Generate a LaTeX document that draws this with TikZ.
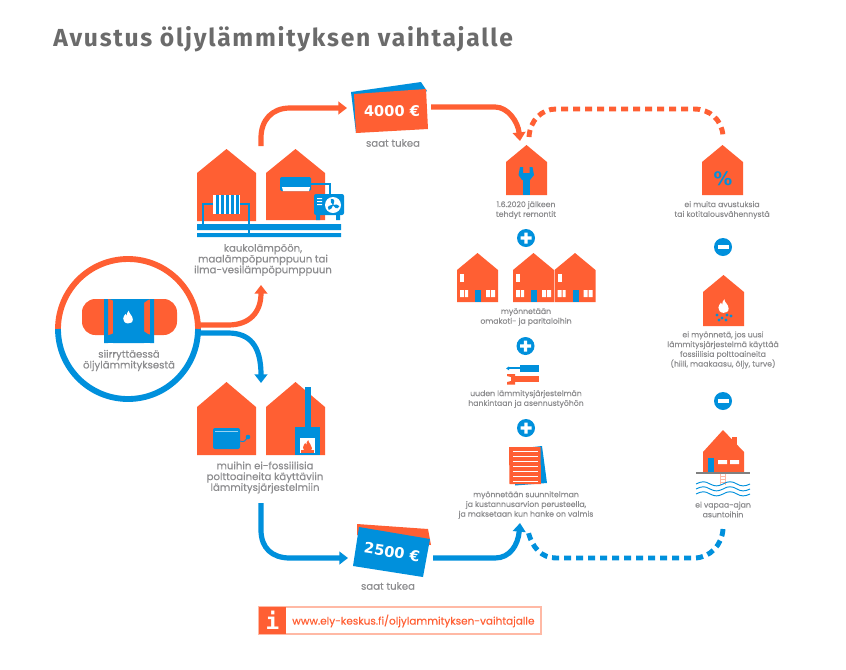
\documentclass[tikz,border=0pt]{standalone}
\usepackage{fontspec}
\setmainfont[FakeBold=0.25]{Poppins}
\newfontfamily\headfont[LetterSpace=7]{Fira Sans}
\newfontfamily\ticketfont{DejaVu Sans}
\newfontfamily\infofont{DejaVu Sans Mono}
\usetikzlibrary{arrows.meta}
\definecolor{org}{HTML}{FF5F33}
\definecolor{blu}{HTML}{0090DC}
\definecolor{gry}{HTML}{8C8C8E}
\definecolor{lite}{HTML}{FFB9A5}
\tikzset{
  x=0.75pt,y=-0.75pt,
  biglab/.style={text=gry,align=center,inner sep=0pt,font=\fontsize{7.6}{8.1}\selectfont},
  smalllab/.style={text=gry,align=center,inner sep=0pt,font=\fontsize{5.8}{7.3}\selectfont},
  flowline/.style={line width=3.9pt,-{Triangle[length=6.5pt,width=9.5pt]}},
  dashline/.style={line width=3.7pt,dash pattern=on 5.4pt off 3.6pt},
  signdot/.style={circle,fill=blu,minimum size=13.5pt,inner sep=0pt},
  ticket/.style={text=white,inner sep=0pt,font=\ticketfont\bfseries\fontsize{11}{13}\selectfont}
}
\newcommand{\myhouse}[5]{\fill[org] (#1,#4) -- ({(#1+#2)/2},#3) -- (#2,#4) -- (#2,#5) -- (#1,#5) -- cycle;}
\newcommand{\myflame}[4]{% x y scale colour
 \begin{scope}[shift={(#1,#2)},scale=#3]
 \fill[#4] (1,-8) .. controls (1,-4) and (6,-2) .. (6,3) .. controls (6,7) and (3,8) .. (0,8) .. controls (-4,8) and (-6,5) .. (-6,2) .. controls (-6,-1) and (-4,-2) .. (-3,-4) .. controls (-2.5,-2.5) and (-2,-2) .. (-1.5,-1.5) .. controls (-1.5,-4) and (-1,-6) .. (1,-8) -- cycle;
 \end{scope}}
\newcommand{\mysmallhouse}[1]{% left x of 41 wide row house
 \myhouse{#1}{#1+41}{253}{270}{302}
 \fill[white] (#1+3,274) rectangle (#1+7,282);
 \fill[white] (#1+3,290) rectangle (#1+7,297) (#1+8,290) rectangle (#1+11,297);
 \fill[white] (#1+29,290) rectangle (#1+33,297) (#1+34,290) rectangle (#1+38,297);
 \fill[blu] (#1+18,290) rectangle (#1+24,302);}
\begin{document}
\begin{tikzpicture}
\useasboundingbox (0,0) rectangle (846,669);
\fill[white] (0,0) rectangle (846,669);
% title
\node[anchor=base west,inner sep=0pt,text=black!58,font=\headfont\bfseries\fontsize{18.5}{21}\selectfont] (title) at (53,46) {Avustus öljylämmityksen vaihtajalle};

% start circle
\draw[org,line width=4.4pt] (58,329) arc[start angle=180,end angle=360,radius=70];
\draw[blu,line width=4.4pt] (58,329) arc[start angle=180,end angle=0,radius=70];
\fill[blu] (104,299) rectangle (154,343);
\fill[org,rounded corners=10pt] (82,299) rectangle (120,335);
\fill[org,rounded corners=10pt] (140,299) rectangle (177,335);
\fill[blu] (104,299) rectangle (108,343) (113,299) rectangle (144,343) (150,299) rectangle (154,343);
\fill[blu] (104,335) rectangle (154,343);
\myflame{128}{317}{0.8}{white}
\node[biglab] (source) at (129,360.5) {siirryttäessä\\öljylämmityksestä};

% top houses
\myhouse{197}{256}{149}{173}{221}
\myhouse{266}{325}{149}{173}{220}
\fill[blu] (197,224) rectangle (341,230) (197,233) rectangle (341,237);
\fill[white] (213,195) rectangle (240,214);
\foreach \s in {215.5,220.5,225.5,230.5,235.5} \fill[blu] (\s,195) rectangle (\s+3,214);
\draw[blu,line width=2pt] (203,224) -- (203,204) -- (213,204);
\draw[blu,line width=2pt] (240,204) -- (249,204) -- (249,235);
\fill[blu,rounded corners=1pt] (280,177) rectangle (311,191);
\fill[white] (282,187) -- (310,187) -- (309,191) -- (283,191) -- cycle;
\draw[blu,line width=1.8pt] (311,184) -- (330,184) -- (330,195);
\fill[blu,rounded corners=1.5pt] (314,194) rectangle (344,215);
\fill[blu] (316,214) rectangle (320,220) (336,214) rectangle (340,220);
\fill[white] (317,198) rectangle (322,199) (317,201) rectangle (322,202) (317,204) rectangle (322,205);
\fill[white] (333,205) circle (8);
\foreach \a in {20,140,260} \fill[blu,rotate around={\a:(333,205)}] (333,205) .. controls (335,203) and (338,200) .. (333,198.5) .. controls (331,200) and (332,203) .. (333,205) -- cycle;
\fill[blu] (333,205) circle (1);
\node[biglab] (targetA) at (263,260) {kaukolämpöön,\\maalämpöpumppuun tai\\ilma-vesilämpöpumppuun};

% lower houses
\myhouse{197}{256}{382}{407}{455}
\myhouse{266}{325}{382}{407}{455}
\fill[blu,rounded corners=1.5pt] (213,428) rectangle (240,449);
\draw[white!60!blu,line width=.5pt] (215,431) -- (238,431);
\draw[blu,line width=.7pt] (240,441) .. controls (245,443) and (245,440) .. (248,437);
\fill[blu] (248,437) circle (2.3);
\fill[blu] (305,387) rectangle (311,427);
\fill[blu] (295,427) rectangle (320,455);
\fill[white] (300,438) rectangle (315,453);
\myflame{307.5}{446}{0.75}{org}
\fill[org] (301,450) rectangle (314,453);
\node[biglab] (targetB) at (265,477.5) {muihin ei-fossiilisia\\polttoaineita käyttäviin\\lämmitysjärjestelmiin};

% tickets
\fill[blu] (351,92) -- (421,82) -- (427,91) -- (356,133) -- cycle;
\fill[org] (354,94) -- (426,89) -- (428,129) -- (356,133) -- cycle;
\node[ticket,rotate=1] (sumA) at (392,111) {4000 €};
\node[biglab] (tukeaA) at (393,143) {saat tukea};
\fill[org] (357,524) -- (428,529) -- (431,545) -- (357,535) -- cycle;
\fill[blu] (359,527) -- (430,539) -- (423,577) -- (353,566) -- cycle;
\node[ticket,rotate=-9] (sumB) at (392,552) {2500 €};
\node[biglab] (tukeaB) at (388,586) {saat tukea};

% connector end points
\coordinate (c1) at (199,325);
\coordinate (c2) at (261,285);
\coordinate (c3) at (199,333);
\coordinate (c4) at (261,383);
\coordinate (c5) at (261,146);
\coordinate (c6) at (347,108);
\coordinate (c7) at (431,107);
\coordinate (c8) at (520,141);
\coordinate (c9) at (529,137);
\coordinate (c10) at (723,136);
\coordinate (c11) at (261,503);
\coordinate (c12) at (348,558);
\coordinate (c13) at (433,558);
\coordinate (c14) at (520,523);
\coordinate (c15) at (723,529);
\coordinate (c16) at (528,531);

\draw[flowline,org] (c1) -- (228,325) .. controls (250,325) and (261,312) .. (c2);
\draw[flowline,blu] (c3) -- (228,333) .. controls (250,333) and (261,346) .. (c4);
\draw[flowline,org] (c5) -- (261,138) .. controls (261,120) and (272,108) .. (290,108) -- (c6);
\draw[flowline,blu] (c11) -- (261,530) .. controls (261,548) and (272,558) .. (290,558) -- (c12);
\draw[flowline,org] (c7) -- (495,107) .. controls (508,107) and (518,122) .. (c8);
\draw[flowline,blu] (c13) -- (495,558) .. controls (510,558) and (518,545) .. (c14);
\draw[dashline,org] (c9) .. controls (530,120) and (542,109) .. (556,109) -- (694,109) .. controls (710,109) and (722,120) .. (c10);
\draw[dashline,blu] (c15) .. controls (722,545) and (710,558) .. (694,558) -- (556,558) .. controls (542,558) and (532,548) .. (c16);

% middle column
\myhouse{506}{547}{145}{162}{195}
\fill[blu] (523,178) rectangle (529.5,195);
\fill[blu] (520,167) -- (523,167) -- (523,173) -- (529.5,173) -- (529.5,167) -- (532.5,167) -- (534,175) -- (530,180) -- (522,180) -- (518.5,175) -- cycle;
\node[smalllab] (nA) at (526,210) {1.6.2020 jälkeen\\tehdyt remontit};
\node[signdot] (plusA) at (526,238) {};
\fill[white] (520.5,236.4) rectangle (531.5,239.6) (524.4,232.5) rectangle (527.6,243.5);
\mysmallhouse{457}
\mysmallhouse{513}
\mysmallhouse{554.5}
\node[smalllab] (nB) at (526,317) {myönnetään\\omakoti- ja paritaloihin};
\node[signdot] (plusB) at (525.5,346) {};
\fill[white] (520,344.4) rectangle (531,347.6) (523.9,340.5) rectangle (527.1,351.5);
\fill[blu] (520,365) rectangle (539,372);
\fill[blu] (508,367.4) rectangle (520,369.4);
\fill[blu] (506,368.4) -- (509,366.5) -- (509,370.3) -- cycle;
\fill[org] (513,376) rectangle (539,382);
\fill[org] (507,374) -- (515,374) -- (515,384.5) -- (507,384.5) -- (507,382) -- (511,381) -- (511,377) -- (507,376) -- cycle;
\node[smalllab] (nC) at (526,399) {uuden lämmitysjärjestelmän\\hankintaan ja asennustyöhön};
\node[signdot] (plusC) at (526,428) {};
\fill[white] (520.5,426.4) rectangle (531.5,429.6) (524.4,422.5) rectangle (527.6,433.5);
\fill[blu] (515,449) -- (542,446) -- (547,483) -- (515,485.5) -- cycle;
\fill[org] (509,447) -- (540.5,447) -- (541,484) -- (509.5,484) -- cycle;
\foreach \yy in {451,456,461,466,471,476,481} \fill[white] (513,\yy) rectangle (537.5,\yy+.9);
\node[smalllab] (nD) at (526,505) {myönnetään suunnitelman\\ja kustannusarvion perusteella,\\ja maksetaan kun hanke on valmis};

% right column
\myhouse{702}{743}{145}{162}{195}
\node[inner sep=0pt,text=blu,font=\ticketfont\bfseries\fontsize{14}{16}\selectfont] (pct) at (723,179) {\%};
\node[smalllab] (nE) at (722,210) {ei muita avustuksia\\tai kotitalousvähennystä};
\node[signdot] (minusA) at (723,247) {};
\fill[white] (717.5,245.4) rectangle (728.5,248.6);
\myhouse{703}{744}{275}{292}{326}
\myflame{723.5}{306}{0.85}{white}
\foreach \px/\py in {717/315,722/318,727/315,731/316,719/320,726/320} \fill[blu] (\px,\py) circle (1.7);
\node[smalllab] (nF) at (723,350) {ei myönnetä, jos uusi\\lämmitysjärjestelmä käyttää\\fossiilisia polttoaineita\\(hiili, maakaasu, öljy, turve)};
\node[signdot] (minusB) at (723,401) {};
\fill[white] (717.5,399.4) rectangle (728.5,402.6);
\fill[org] (732,437) rectangle (737,448);
\fill[org] (703,452) -- (723,430) -- (744,452) -- (744,473) -- (703,473) -- cycle;
\fill[blu] (708,458) rectangle (714,473);
\fill[white] (718,460) rectangle (727,464) (730,460) rectangle (739,464);
\draw[black!50,line width=.8pt] (696,473) -- (750,473);
\draw[lite,line width=.7pt] (720.5,473.5) -- (720.5,485) (725.5,473.5) -- (725.5,485);
\foreach \yy in {476,479,482} \draw[lite,line width=.7pt] (720.5,\yy) -- (725.5,\yy);
\foreach \yy in {484,489,494} \draw[blu,line width=.7pt] (696,\yy) .. controls (702,\yy-3) and (705,\yy-3) .. (710,\yy) .. controls (715,\yy+2.5) and (718,\yy+2.5) .. (723,\yy) .. controls (728,\yy-3) and (732,\yy-3) .. (737,\yy) .. controls (741,\yy+2.5) and (745,\yy+2.5) .. (750,\yy);
\node[smalllab] (nG) at (723,509.5) {ei vapaa-ajan\\asuntoihin};

% info box
\fill[white] (259,607) rectangle (541,634);
\draw[lite,line width=.9pt] (259,607) rectangle (541,634);
\fill[org] (259,607) rectangle (286,634);
\node[inner sep=0pt,text=white,font=\infofont\bfseries\fontsize{17}{19}\selectfont] (infoi) at (272.5,620.5) {i};
\node[inner sep=0pt,text=org,anchor=west,font=\fontsize{7.85}{10}\selectfont] (url) at (292,621) {www.ely-keskus.fi/oljylammityksen-vaihtajalle};
\end{tikzpicture}
\end{document}
